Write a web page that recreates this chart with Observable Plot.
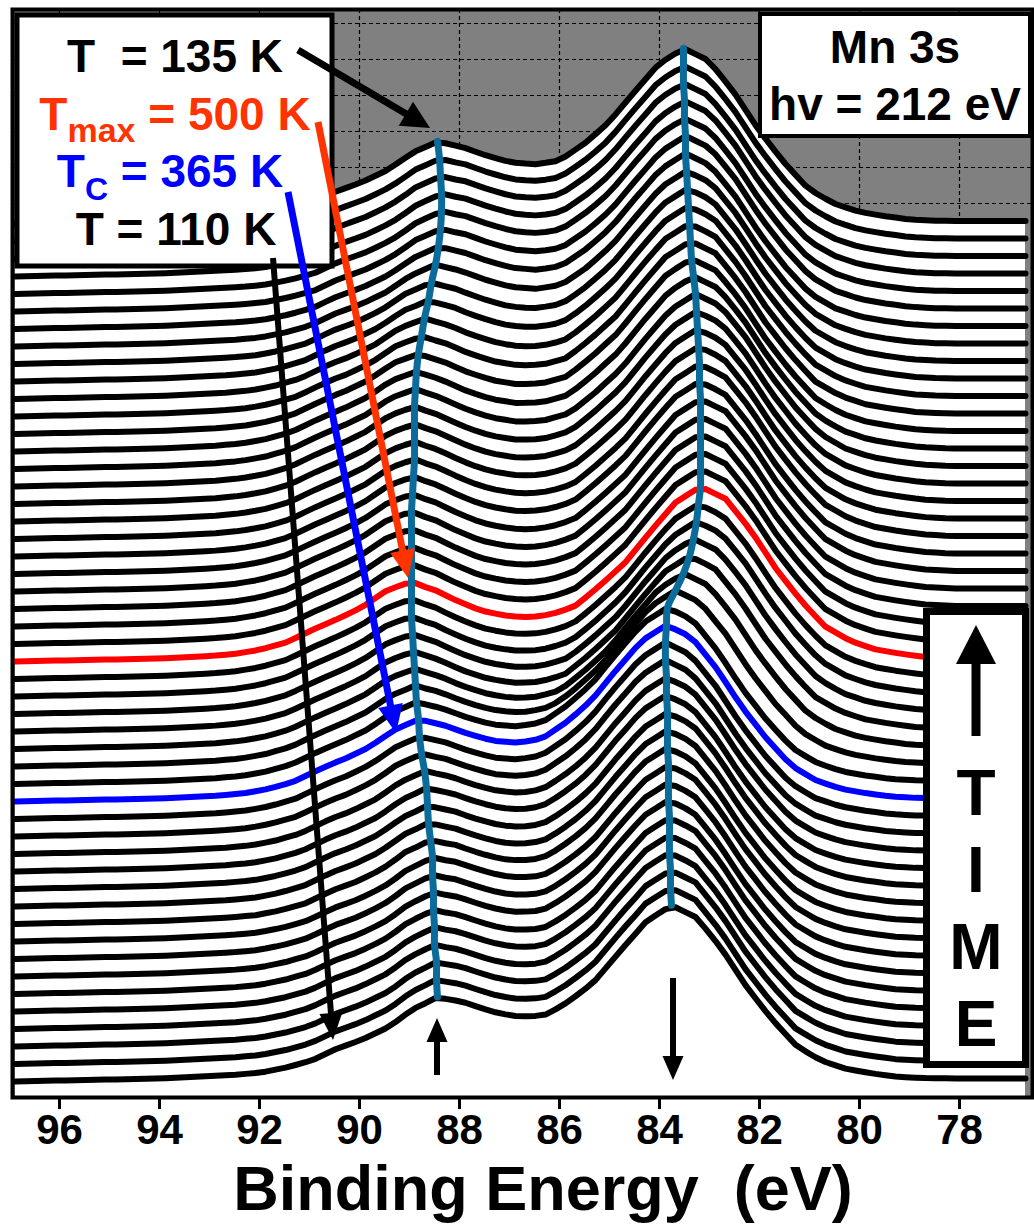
<!DOCTYPE html>
<html>
<head>
<meta charset="utf-8">
<script src="https://cdn.jsdelivr.net/npm/d3@7"></script>
<script src="https://cdn.jsdelivr.net/npm/@observablehq/plot@0.6"></script>
<style>
  html, body { margin: 0; padding: 0; background: white; }
  #chart { width: 1034px; height: 1226px; }
</style>
</head>
<body>
<div id="chart"></div>
<script>
// ---------- data ----------
// x-axis ticks (binding energy, eV)
const xTicks = [96, 94, 92, 90, 88, 86, 84, 82, 80, 78];
// horizontal grid values (intensity, arb. units)
const yGridTicks = [894, 930, 966, 1002, 1038, 1074];

// satellite peak position for each scan (scan 0 = first / bottom, eV)
const satPos = [88.44, 88.46, 88.46, 88.50, 88.50, 88.52, 88.52, 88.54, 88.54, 88.58,
                88.62, 88.64, 88.66, 88.70, 88.76, 88.80, 88.82, 88.86, 88.88, 88.90,
                88.92, 88.94, 88.96, 88.96, 88.96, 88.96, 88.96, 88.96, 88.96, 88.94,
                88.92, 88.90, 88.90, 88.90, 88.90, 88.88, 88.86, 88.82, 88.76, 88.70,
                88.62, 88.56, 88.48, 88.42, 88.38, 88.36, 88.36, 88.38, 88.40, 88.44];
// main Mn 3s peak position for each scan (eV)
const mainPos = [83.76, 83.78, 83.78, 83.80, 83.80, 83.80, 83.82, 83.82, 83.82, 83.84,
                 83.84, 83.84, 83.86, 83.86, 83.88, 83.88, 83.86, 83.84, 83.68, 83.52,
                 83.40, 83.32, 83.26, 83.22, 83.18, 83.18, 83.18, 83.18, 83.18, 83.18,
                 83.20, 83.20, 83.22, 83.24, 83.26, 83.28, 83.32, 83.36, 83.38, 83.40,
                 83.42, 83.44, 83.46, 83.48, 83.48, 83.50, 83.50, 83.52, 83.52, 83.52];

// satellite line shape: energy from its peak (eV) and intensity
const satShapeDE = [-4, -3.5, -3, -2.5, -2, -1.5, -1, -0.5, 0, 0.5, 1, 1.5, 2, 2.5, 3, 3.5, 4];
const satShapeI  = [0, 1, 3, 8, 16, 27, 41, 56, 66, 57, 40, 28, 19, 9, 4, 1, 0];
// main line shape
const mainShapeDE = [-5, -4.5, -4, -3.5, -3, -2.5, -2, -1.5, -1, -0.5, 0, 0.5, 1, 1.5, 2, 2.5, 3, 3.5, 4, 4.5, 5, 5.5];
const mainShapeI  = [0, 1, 4, 8, 16, 30, 56, 87, 124, 154, 165, 148, 118, 86, 62, 40, 28, 19, 12, 6, 2, 0];
// background under the spectrum
const bgE = [76.5, 78, 81, 85, 90.5, 92, 94, 97];
const bgI = [3, 3, 5, 14, 14, 8, 3, 0];

// highlighted scans
const scanTC = 16;    // T_C = 365 K  (blue)
const scanTmax = 24;  // T_max = 500 K (red)

// annotation arrows (energy, intensity)
const arrows = [
  {x1: 91.22, y1: 1047, x2: 88.58, y2: 969, color: "#000000", w: 7, hl: 28, hw: 28},
  {x1: 90.82, y1: 975,  x2: 89.02, y2: 519, color: "#ff3300", w: 7, hl: 28, hw: 25},
  {x1: 91.42, y1: 905,  x2: 89.26, y2: 364, color: "#0000ff", w: 7, hl: 28, hw: 25},
  {x1: 91.72, y1: 839,  x2: 90.52, y2: 57,  color: "#000000", w: 6, hl: 27, hw: 23},
  {x1: 88.44, y1: 22,   x2: 88.44, y2: 79,  color: "#000000", w: 6, hl: 24, hw: 21},
  {x1: 83.72, y1: 119,  x2: 83.72, y2: 17,  color: "#000000", w: 6, hl: 24, hw: 21}
];

// ---------- build the waterfall ----------
const nScans = satPos.length;
const scanStep = 17.5, baseOffset = 16;
const energyGrid = d3.range(96.88, 76.5, -0.2);

function interp(xs, ys, x) {
  if (x <= xs[0]) return ys[0];
  if (x >= xs[xs.length - 1]) return ys[ys.length - 1];
  const j = d3.bisectRight(xs, x) - 1;
  const t = (x - xs[j]) / (xs[j + 1] - xs[j]);
  return ys[j] + t * (ys[j + 1] - ys[j]);
}
function intensity(i, E) {
  return baseOffset + scanStep * i + interp(bgE, bgI, E)
    + interp(satShapeDE, satShapeI, E - satPos[i])
    + interp(mainShapeDE, mainShapeI, E - mainPos[i]);
}
const scans = d3.range(nScans).map(i => energyGrid.map(E => ({E, Y: intensity(i, E), scan: i})));
const satTrack = d3.range(nScans).map(i => ({E: satPos[i], Y: intensity(i, satPos[i])}));
const mainTrack = d3.range(nScans).map(i => ({E: mainPos[i], Y: intensity(i, mainPos[i])}));

const curveMarks = [];
for (let i = nScans - 1; i >= 0; i--) {
  const color = i === scanTmax ? "#ff0000" : i === scanTC ? "#0000ff" : "#000000";
  curveMarks.push(Plot.areaY(scans[i], {x: "E", y1: 0, y2: "Y", fill: "white"}));
  curveMarks.push(Plot.line(scans[i], {x: "E", y: "Y", stroke: color, strokeWidth: 6, strokeLinejoin: "round"}));
}

const chart = Plot.plot({
  width: 1034, height: 1226,
  marginLeft: 12, marginRight: 2, marginTop: 9, marginBottom: 129,
  x: {domain: [96.94, 76.54]},
  y: {domain: [0, 1088], axis: null},
  style: {fontFamily: "'Liberation Sans', Arial, sans-serif", background: "white", color: "black"},
  marks: [
    Plot.frame({fill: "#808080"}),
    Plot.gridX(xTicks, {stroke: "black", strokeOpacity: 1, strokeWidth: 1.2, strokeDasharray: "4,3"}),
    Plot.gridY(yGridTicks, {stroke: "black", strokeOpacity: 1, strokeWidth: 1.2, strokeDasharray: "4,3"}),
    ...curveMarks,
    Plot.line(satTrack, {x: "E", y: "Y", stroke: "#0b6b9a", strokeWidth: 7, curve: "catmull-rom"}),
    Plot.line(mainTrack, {x: "E", y: "Y", stroke: "#0b6b9a", strokeWidth: 7, curve: "catmull-rom"}),
    Plot.frame({stroke: "black", strokeWidth: 4}),
    Plot.axisX(xTicks, {tickSize: 12, tickPadding: 5, strokeWidth: 3, fontSize: 42, fontWeight: "bold",
                        tickFormat: d => String(d), label: null})
  ]
});
document.getElementById("chart").append(chart);

// ---------- annotations drawn with the chart's own scales ----------
const sx = chart.scale("x"), sy = chart.scale("y");
const px = v => sx.apply(v), py = v => sy.apply(v);
const svg = d3.select(chart);
const g = svg.append("g").attr("font-family", "'Liberation Sans', Arial, sans-serif").attr("font-weight", "bold");

// legend box
g.append("rect").attr("x", 17).attr("y", 15).attr("width", 315).attr("height", 251)
  .attr("fill", "white").attr("stroke", "black").attr("stroke-width", 5);
function label(x, y, color, main, sub, rest, subSize, subDy) {
  const t = g.append("text").attr("x", x).attr("y", y).attr("text-anchor", "middle")
    .attr("font-size", 46).attr("fill", color);
  t.append("tspan").text(main);
  if (sub) t.append("tspan").attr("font-size", subSize).attr("dy", subDy).text(sub);
  t.append("tspan").attr("dy", sub ? -subDy : 0).text(rest);
}
label(175, 72, "#000000", "T", null, "\u00a0\u00a0= 135 K");
label(175, 130, "#ff3300", "T", "max", "\u00a0= 500 K", 34, 12);
label(170, 187, "#0000ff", "T", "C", "\u00a0= 365 K", 32, 13);
label(176, 245, "#000000", "T", null, "\u00a0= 110 K");

// Mn 3s box
g.append("rect").attr("x", 760).attr("y", 14).attr("width", 270).attr("height", 122)
  .attr("fill", "white").attr("stroke", "black").attr("stroke-width", 4);
g.append("text").attr("x", 895).attr("y", 63).attr("text-anchor", "middle").attr("font-size", 46).text("Mn 3s");
g.append("text").attr("x", 895).attr("y", 120).attr("text-anchor", "middle").attr("font-size", 46).text("hv = 212 eV");

// TIME box
g.append("rect").attr("x", 926.5).attr("y", 611.5).attr("width", 99).attr("height", 453)
  .attr("fill", "white").attr("stroke", "black").attr("stroke-width", 7);
g.append("line").attr("x1", 976).attr("x2", 976).attr("y1", 736).attr("y2", 655)
  .attr("stroke", "black").attr("stroke-width", 9);
g.append("path").attr("d", "M976,625 L956,664 L996,664 Z").attr("fill", "black");
["T", "I", "M", "E"].forEach((ch, k) => {
  g.append("text").attr("x", 976).attr("y", 815 + k * 77).attr("text-anchor", "middle")
    .attr("font-size", 64).text(ch);
});

// arrows
arrows.forEach(a => {
  const x1 = px(a.x1), y1 = py(a.y1), x2 = px(a.x2), y2 = py(a.y2);
  const dx = x2 - x1, dy = y2 - y1, len = Math.hypot(dx, dy);
  const ux = dx / len, uy = dy / len, nx = -uy, ny = ux;
  const bx = x2 - ux * a.hl, by = y2 - uy * a.hl;
  g.append("line").attr("x1", x1).attr("y1", y1).attr("x2", bx + ux * 3).attr("y2", by + uy * 3)
    .attr("stroke", a.color).attr("stroke-width", a.w);
  g.append("path")
    .attr("d", `M${x2},${y2} L${bx + nx * a.hw / 2},${by + ny * a.hw / 2} L${bx - nx * a.hw / 2},${by - ny * a.hw / 2} Z`)
    .attr("fill", a.color);
});

// axis title
g.append("text").attr("x", 543).attr("y", 1210).attr("text-anchor", "middle").attr("font-size", 63)
  .text("Binding Energy\u00a0\u00a0(eV)");
</script>
</body>
</html>
